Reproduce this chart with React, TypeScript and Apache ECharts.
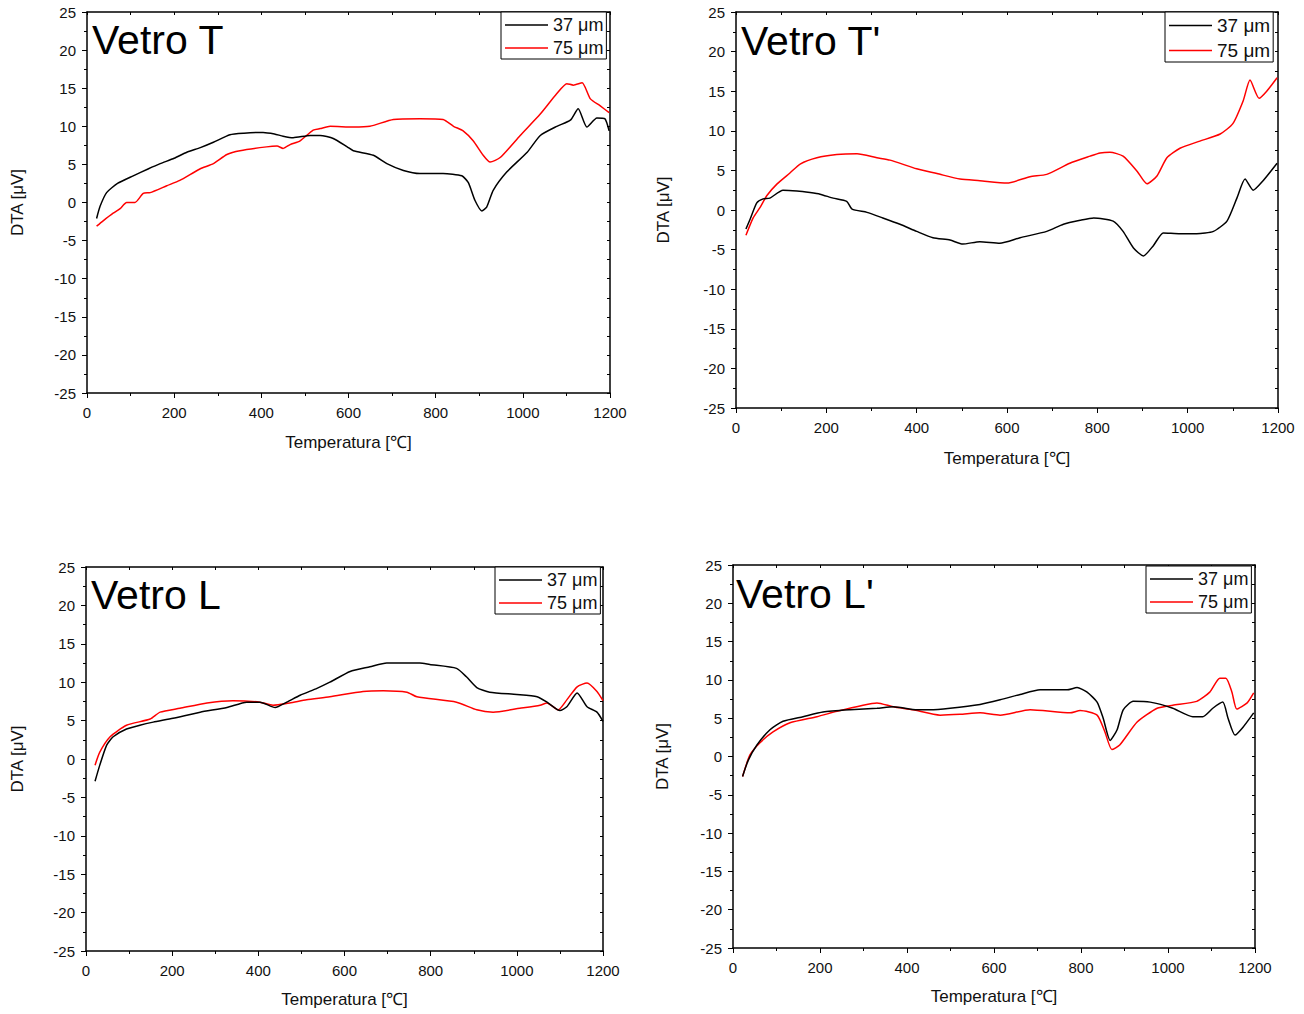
import React, { useEffect, useRef } from "react";
import * as echarts from "echarts";

// DTA curves, [temperature °C, signal µV]
const vetroT_37: [number, number][] = [
  [22, -2.1], [30, -0.5], [45, 1.3], [70, 2.5], [106, 3.5], [140, 4.4], [168, 5.1], [200, 5.8],
  [229, 6.6], [260, 7.2], [290, 7.9], [328, 8.9], [360, 9.1], [404, 9.2], [430, 9.0], [450, 8.7],
  [473, 8.5], [512, 8.8], [535, 8.8], [565, 8.4], [597, 7.3], [611, 6.8], [657, 6.2], [688, 5.1],
  [726, 4.2], [764, 3.8], [817, 3.8], [860, 3.5], [875, 2.6], [890, 0.3], [906, -1.1], [917, -0.6],
  [932, 1.6], [963, 4.0], [1010, 6.6], [1040, 8.8], [1078, 10.0], [1109, 10.8], [1127, 12.3],
  [1147, 9.9], [1170, 11.1], [1188, 11.0], [1198, 9.4],
];
const vetroT_75: [number, number][] = [
  [22, -3.1], [37, -2.4], [60, -1.4], [76, -0.8], [91, 0], [110, 0], [129, 1.2], [145, 1.3],
  [183, 2.2], [213, 2.9], [259, 4.4], [290, 5.1], [321, 6.3], [351, 6.8], [412, 7.3], [436, 7.4],
  [450, 7.1], [466, 7.6], [489, 8.1], [519, 9.5], [535, 9.7], [558, 10.0], [611, 9.9], [649, 10.0],
  [703, 10.9], [764, 11.0], [817, 10.9], [841, 10.0], [863, 9.4], [886, 8.1], [909, 6.2], [925, 5.3],
  [948, 5.9], [994, 8.8], [1040, 11.6], [1078, 14.3], [1101, 15.6], [1116, 15.4], [1136, 15.7],
  [1155, 13.6], [1177, 12.7], [1198, 11.8],
];
const vetroT1_37: [number, number][] = [
  [22, -2.4], [31, -1.2], [46, 0.9], [60, 1.4], [75, 1.5], [104, 2.5], [135, 2.4], [164, 2.2],
  [186, 2.0], [215, 1.5], [245, 1.1], [257, 0.1], [290, -0.3], [325, -1.0], [363, -1.8], [400, -2.7],
  [436, -3.5], [474, -3.8], [502, -4.3], [540, -4.0], [584, -4.2], [629, -3.5], [688, -2.7],
  [725, -1.8], [762, -1.3], [792, -1.0], [835, -1.4], [857, -2.7], [880, -4.8], [902, -5.8],
  [924, -4.5], [946, -2.9], [983, -3.0], [1020, -3.0], [1057, -2.7], [1087, -1.4], [1109, 1.5],
  [1127, 3.9], [1145, 2.5], [1167, 3.7], [1198, 5.9],
];
const vetroT1_75: [number, number][] = [
  [22, -3.2], [38, -1.0], [53, 0.3], [68, 1.8], [91, 3.3], [120, 4.7], [142, 5.8], [179, 6.6],
  [223, 7.0], [268, 7.1], [312, 6.6], [341, 6.3], [400, 5.2], [445, 4.6], [496, 3.9], [540, 3.7],
  [600, 3.4], [651, 4.2], [688, 4.5], [739, 5.9], [784, 6.8], [806, 7.2], [828, 7.3], [857, 6.8],
  [888, 4.9], [910, 3.3], [932, 4.3], [954, 6.6], [983, 7.8], [1027, 8.7], [1072, 9.6], [1100, 10.9],
  [1123, 13.8], [1138, 16.4], [1158, 14.1], [1175, 15.0], [1198, 16.7],
];
const vetroL_37: [number, number][] = [
  [21, -2.9], [32, -0.8], [48, 1.8], [63, 2.9], [94, 3.9], [125, 4.4], [156, 4.8], [202, 5.3],
  [265, 6.1], [327, 6.7], [373, 7.4], [404, 7.4], [439, 6.7], [466, 7.4], [497, 8.3], [536, 9.2],
  [566, 10.0], [613, 11.4], [659, 12.0], [698, 12.5], [775, 12.5], [798, 12.3], [860, 11.8],
  [883, 10.7], [907, 9.3], [937, 8.7], [1000, 8.4], [1047, 8.1], [1070, 7.4], [1100, 6.3],
  [1116, 6.8], [1140, 8.6], [1163, 6.8], [1186, 6.1], [1200, 4.9],
];
const vetroL_75: [number, number][] = [
  [21, -0.8], [32, 0.9], [56, 2.9], [94, 4.4], [149, 5.2], [172, 6.1], [218, 6.6], [281, 7.3],
  [341, 7.6], [404, 7.4], [434, 7.0], [473, 7.3], [512, 7.7], [566, 8.1], [643, 8.8], [690, 8.9],
  [745, 8.7], [768, 8.1], [860, 7.4], [907, 6.4], [945, 6.1], [1007, 6.6], [1054, 7.0], [1070, 7.3],
  [1096, 6.4], [1116, 7.7], [1140, 9.4], [1163, 9.9], [1186, 8.8], [1200, 7.6],
];
const vetroL1_37: [number, number][] = [
  [22, -2.6], [35, -0.5], [55, 1.5], [85, 3.5], [115, 4.6], [161, 5.2], [207, 5.8], [269, 6.1],
  [331, 6.3], [368, 6.5], [423, 6.1], [453, 6.1], [499, 6.3], [568, 6.8], [614, 7.4], [660, 8.1],
  [706, 8.7], [768, 8.7], [791, 9.0], [814, 8.4], [837, 7.1], [851, 5.0], [867, 2.1], [883, 3.5],
  [897, 6.1], [920, 7.2], [959, 7.1], [1011, 6.3], [1057, 5.2], [1080, 5.2], [1103, 6.3],
  [1126, 7.1], [1138, 5.0], [1154, 2.8], [1172, 3.8], [1197, 5.7],
];
const vetroL1_75: [number, number][] = [
  [22, -2.6], [39, 0.2], [62, 1.8], [92, 3.2], [131, 4.4], [193, 5.2], [239, 5.9], [299, 6.7],
  [331, 7.0], [368, 6.5], [414, 6.1], [476, 5.4], [522, 5.5], [568, 5.7], [614, 5.4], [683, 6.1],
  [775, 5.7], [798, 6.0], [837, 5.4], [855, 3.2], [871, 0.9], [889, 1.5], [929, 4.5], [975, 6.3],
  [1011, 6.7], [1066, 7.2], [1096, 8.4], [1119, 10.2], [1133, 10.2], [1147, 8.4], [1158, 6.2],
  [1182, 7.0], [1197, 8.3],
];

const panelTitles = ["Vetro T", "Vetro T'", "Vetro L", "Vetro L'"];
const seriesNames = ["37 μm", "75 μm"];
const panelData = [
  [vetroT_37, vetroT_75],
  [vetroT1_37, vetroT1_75],
  [vetroL_37, vetroL_75],
  [vetroL1_37, vetroL1_75],
];
const xTitle = "Temperatura [℃]";
const yTitle = "DTA [μV]";

// plot-area geometry of each panel
const layout = [
  { left: 87, top: 12, width: 523, height: 381, yGap: 61, xGap: 41, titleX: 92, titleY: 40, legX: 501, legY: 12, legFont: 18, legGap: 5 },
  { left: 736, top: 12, width: 542, height: 396, yGap: 64, xGap: 42, titleX: 741, titleY: 41, legX: 1165, legY: 12, legFont: 19, legGap: 6 },
  { left: 86, top: 567, width: 517, height: 384, yGap: 60, xGap: 40, titleX: 91, titleY: 595, legX: 495, legY: 567, legFont: 18, legGap: 5 },
  { left: 733, top: 565, width: 522, height: 383, yGap: 62, xGap: 40, titleX: 736, titleY: 594, legX: 1146, legY: 566, legFont: 18, legGap: 5 },
];

const FONT = "Liberation Sans, Arial, sans-serif";
const INK = "#000";
const colors = ["#000000", "#ff0000"];

export default function App() {
  const ref = useRef<HTMLDivElement>(null);

  useEffect(() => {
    if (!ref.current) return;
    const chart = echarts.init(ref.current, null, { renderer: "svg" });

    const grid: any[] = [];
    const xAxis: any[] = [];
    const yAxis: any[] = [];
    const series: any[] = [];
    const legend: any[] = [];
    const graphic: any[] = [];

    const axisLine = { show: true, onZero: false, lineStyle: { color: INK, width: 1.5 } };
    const plain = (v: number) => String(v);

    layout.forEach((g, i) => {
      grid.push({ left: g.left, top: g.top, width: g.width, height: g.height, containLabel: false });
      // bottom axis with labels
      xAxis.push({
        type: "value", gridIndex: i, position: "bottom", min: 0, max: 1200, interval: 200,
        axisLine, axisTick: { show: true, inside: false, length: 5, lineStyle: { color: INK, width: 1 } },
        minorTick: { show: true, splitNumber: 2, length: 3, lineStyle: { color: INK, width: 1 } },
        splitLine: { show: false }, minorSplitLine: { show: false },
        axisLabel: { show: true, margin: 12, fontSize: 15, color: "#111", fontFamily: FONT, formatter: plain },
        name: xTitle, nameLocation: "middle", nameGap: g.xGap,
        nameTextStyle: { fontSize: 17, color: "#111", fontFamily: FONT },
      });
      // top frame axis
      xAxis.push({
        type: "value", gridIndex: i, position: "top", min: 0, max: 1200, interval: 100,
        axisLine, axisTick: { show: true, inside: true, length: 3, lineStyle: { color: INK, width: 1 } },
        splitLine: { show: false }, axisLabel: { show: false },
      });
      // left axis with labels
      yAxis.push({
        type: "value", gridIndex: i, position: "left", min: -25, max: 25, interval: 5,
        axisLine, axisTick: { show: true, inside: false, length: 5, lineStyle: { color: INK, width: 1 } },
        minorTick: { show: true, splitNumber: 2, length: 3, lineStyle: { color: INK, width: 1 } },
        splitLine: { show: false }, minorSplitLine: { show: false },
        axisLabel: { show: true, margin: 11, fontSize: 15, color: "#111", fontFamily: FONT, formatter: plain },
        name: yTitle, nameLocation: "middle", nameGap: g.yGap,
        nameTextStyle: { fontSize: 17, color: "#111", fontFamily: FONT },
      });
      // right frame axis
      yAxis.push({
        type: "value", gridIndex: i, position: "right", min: -25, max: 25, interval: 2.5,
        axisLine, axisTick: { show: true, inside: true, length: 3, lineStyle: { color: INK, width: 1 } },
        splitLine: { show: false }, axisLabel: { show: false },
      });

      panelData[i].forEach((d, k) => {
        series.push({
          type: "line", name: seriesNames[k], xAxisIndex: 2 * i, yAxisIndex: 2 * i,
          data: d, symbol: "none", showSymbol: false, smooth: 0.2,
          lineStyle: { color: colors[k], width: 1.5 }, itemStyle: { color: colors[k] },
          z: k === 0 ? 3 : 2,
        });
      });

      legend.push({
        data: seriesNames, orient: "vertical", left: g.legX, top: g.legY,
        icon: "rect", itemWidth: 43, itemHeight: 1.5, itemGap: g.legGap,
        padding: [4, 3, 2, 4], borderColor: INK, borderWidth: 1, borderRadius: 0,
        backgroundColor: "#fff", selectedMode: false,
        textStyle: { fontSize: g.legFont, color: "#111", fontFamily: FONT },
      });

      graphic.push({
        type: "text", x: g.titleX, y: g.titleY,
        style: { text: panelTitles[i], fontSize: 41, fontFamily: FONT, fill: INK, verticalAlign: "middle", align: "left" },
        z: 10,
      });
    });

    chart.setOption({
      animation: false,
      backgroundColor: "#fff",
      textStyle: { fontFamily: FONT },
      grid, xAxis, yAxis, series, legend, graphic,
    });

    return () => chart.dispose();
  }, []);

  return (
    <div
      ref={ref}
      style={{ position: "fixed", left: 0, top: 0, width: 1304, height: 1014, background: "#fff" }}
    />
  );
}
